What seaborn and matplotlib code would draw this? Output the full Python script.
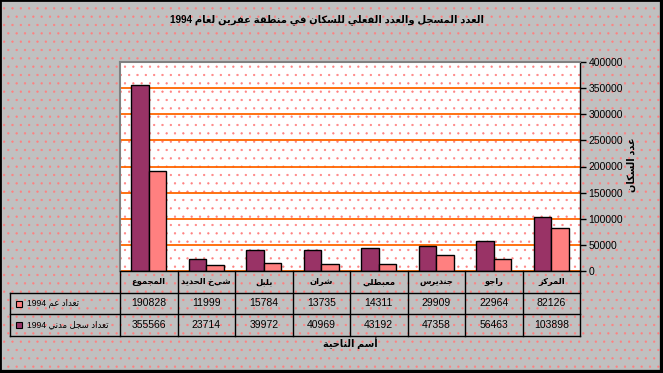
import re

import pandas as pd
import matplotlib
matplotlib.use("Agg")
import matplotlib.pyplot as plt
from matplotlib.patches import Rectangle
import seaborn as sns


# Chart data (left to right as drawn)
categories = ["المجموع", "شيخ الحديد", "بلبل", "شران", "معبطلي", "جنديرس", "راجو", "المركز"]
actual_1994 = [190828, 11999, 15784, 13735, 14311, 29909, 22964, 82126]
registered_1994 = [355566, 23714, 39972, 40969, 43192, 47358, 56463, 103898]

series_names = ["تعداد سجل مدني 1994", "تعداد عم 1994"]
series_colors = ["#993366", "#FF8080"]
y_ticks = [0, 50000, 100000, 150000, 200000, 250000, 300000, 350000, 400000]

title = "العدد المسجل والعدد الفعلي للسكان في منطقة عفرين لعام 1994"
x_label = "أسم الناحية"
y_label = "عدد السكان"


# matplotlib has no arabic shaping, so do a small one by hand
FORMS = {
    "ا": (0xFE8D, 2), "أ": (0xFE83, 2), "ب": (0xFE8F, 4), "ة": (0xFE93, 2),
    "ت": (0xFE95, 4), "ج": (0xFE9D, 4), "ح": (0xFEA1, 4), "د": (0xFEA9, 2),
    "ر": (0xFEAD, 2), "ز": (0xFEAF, 2), "س": (0xFEB1, 4), "ش": (0xFEB5, 4),
    "ط": (0xFEC1, 4), "ع": (0xFEC9, 4), "ف": (0xFED1, 4), "ق": (0xFED5, 4),
    "ك": (0xFED9, 4), "ل": (0xFEDD, 4), "م": (0xFEE1, 4), "ن": (0xFEE5, 4),
    "ه": (0xFEE9, 4), "و": (0xFEED, 2), "ي": (0xFEF1, 4),
    "لا": (0xFEFB, 2), "لأ": (0xFEF7, 2),
}


def ar(text):
    tokens = []
    i = 0
    while i < len(text):
        if text[i] == "ل" and i + 1 < len(text) and text[i + 1] in "اأ":
            tokens.append(text[i:i + 2])
            i += 2
        else:
            tokens.append(text[i])
            i += 1
    out = []
    for k, t in enumerate(tokens):
        if t not in FORMS:
            out.append(t)
            continue
        base, n = FORMS[t]
        prev = tokens[k - 1] if k > 0 else None
        nxt = tokens[k + 1] if k + 1 < len(tokens) else None
        join_prev = prev in FORMS and FORMS[prev][1] == 4
        join_next = n == 4 and nxt in FORMS
        if join_prev and join_next:
            out.append(chr(base + 3))
        elif join_prev:
            out.append(chr(base + 1))
        elif join_next:
            out.append(chr(base + 2))
        else:
            out.append(chr(base))
    s = "".join(out)[::-1]
    return re.sub(r"\d+", lambda m: m.group()[::-1], s)


df = pd.DataFrame({
    "cat": categories * 2,
    "series": [series_names[0]] * len(categories) + [series_names[1]] * len(categories),
    "value": registered_1994 + actual_1994,
})

plt.rcParams["font.family"] = ["Liberation Sans", "DejaVu Sans"]
plt.rcParams["hatch.linewidth"] = 0.4

W, H = 663, 373
fig = plt.figure(figsize=(W / 100, H / 100), dpi=100)
fig.patch.set_facecolor("#C0C0C0")
# dotted background, drawn under the axes
fig.patches.append(Rectangle((0, 0), 1, 1, transform=fig.transFigure, facecolor="none",
                             edgecolor="#FF8080", hatch="..", linewidth=0, zorder=-1))
# chart frame: thin top/left, heavier right/bottom
fig.patches.append(Rectangle((0, 0), 1, 1, transform=fig.transFigure, fill=False,
                             edgecolor="black", linewidth=2, zorder=5))
fig.lines.append(plt.Line2D([1, 1, 0], [1, 0, 0], transform=fig.transFigure,
                            color="black", linewidth=4.5, zorder=5))

# plot area in pixels: x 120-580, y 62-271
ax = fig.add_axes([120 / W, 1 - 271 / H, 460 / W, 209 / H])
ax.set_facecolor("white")
ax.add_patch(Rectangle((0, 0), 1, 1, transform=ax.transAxes, facecolor="none",
                       edgecolor="#FF8080", hatch="..", linewidth=0, zorder=0.1))

sns.barplot(data=df, x="cat", y="value", hue="series", hue_order=series_names,
            order=categories, palette=series_colors, saturation=1, width=0.61,
            edgecolor="black", linewidth=1, legend=False, zorder=2, ax=ax)

ax.set_ylim(0, 400000)
ax.set_yticks(y_ticks)
ax.yaxis.tick_right()
ax.tick_params(axis="y", direction="out", length=4, width=1, labelsize=7.5, pad=2)
ax.tick_params(axis="x", bottom=False, labelbottom=False)
ax.set_xlabel("")
ax.set_ylabel("")
ax.yaxis.grid(True, color="#FF6600", linewidth=1.3)
ax.set_axisbelow(True)
for side in ["top", "left"]:
    ax.spines[side].set_color("#808080")
    ax.spines[side].set_linewidth(1.5)
ax.spines["right"].set_linewidth(1)
ax.spines["bottom"].set_linewidth(1)

# data table under the plot
tr = ax.get_xaxis_transform()
col_w = 57.5
n = len(categories)
x_left = -0.5 - 110 / col_w
row_lines = [-22 / 209, -43 / 209, -65 / 209]
row_mid = [-11 / 209, -32.5 / 209, -54 / 209]

for i in range(n + 1):
    ax.plot([i - 0.5, i - 0.5], [0, row_lines[2]], color="black", lw=1,
            transform=tr, clip_on=False, scalex=False, scaley=False)
for y in row_lines:
    ax.plot([x_left, n - 0.5], [y, y], color="black", lw=1, transform=tr,
            clip_on=False, scalex=False, scaley=False)
ax.plot([x_left, x_left], [row_lines[0], row_lines[2]], color="black", lw=1,
        transform=tr, clip_on=False, scalex=False, scaley=False)

for i, c in enumerate(categories):
    ax.text(i, row_mid[0], ar(c), transform=tr, ha="center", va="center",
            fontsize=6, fontweight="bold")
    ax.text(i, row_mid[1], str(actual_1994[i]), transform=tr, ha="center", va="center",
            fontsize=7.5)
    ax.text(i, row_mid[2], str(registered_1994[i]), transform=tr, ha="center",
            va="center", fontsize=7.5)

key_x = -0.5 - 104 / col_w
for row, name, color in [(1, series_names[1], series_colors[1]),
                         (2, series_names[0], series_colors[0])]:
    ax.add_patch(Rectangle((key_x, row_mid[row] - 3 / 209), 6 / col_w, 6 / 209,
                           transform=tr, facecolor=color, edgecolor="black",
                           linewidth=0.8, clip_on=False))
    ax.text(-0.5 - 93 / col_w, row_mid[row], ar(name), transform=tr, ha="left",
            va="center", fontsize=6.2)

ax.set_xlim(-0.5, n - 0.5)

fig.text(0.5 * (120 + 580) / W, 1 - 343 / H, ar(x_label), ha="center", va="center",
         fontsize=7, fontweight="bold")
fig.text(632 / W, 1 - 165 / H, ar(y_label), ha="center", va="center", rotation=90,
         fontsize=7, fontweight="bold")
fig.text(327 / W, 1 - 20 / H, ar(title), ha="center", va="center", fontsize=7.2,
         fontweight="bold")

fig.savefig("out.png", dpi=100, facecolor=fig.get_facecolor())
